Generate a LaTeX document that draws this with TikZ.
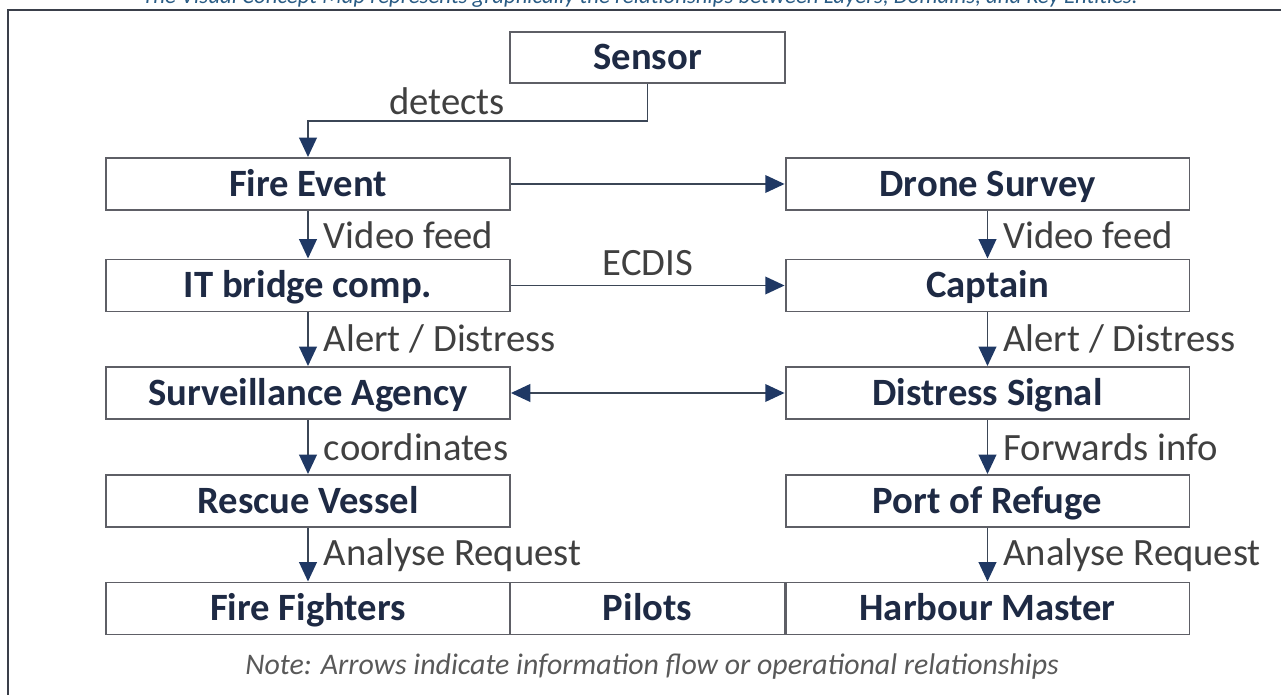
\documentclass[tikz,border=0pt]{standalone}
\usepackage{fontspec}
\setmainfont{Carlito}
\usetikzlibrary{positioning, arrows.meta}

\definecolor{boxline}{HTML}{5E5F66}
\definecolor{flowline}{HTML}{3B4656}
\definecolor{headfill}{HTML}{1F3864}
\definecolor{boxtext}{HTML}{1E2A44}
\definecolor{labeltext}{HTML}{404040}
\definecolor{notetext}{HTML}{595959}
\definecolor{titletext}{HTML}{2A5C85}
\definecolor{framecol}{HTML}{3A3F4A}

\begin{document}
\begin{tikzpicture}[
    x=0.02cm, y=-0.02cm,
    entity/.style={rectangle, draw=boxline, line width=1.1pt, fill=white, minimum height=1.04cm, inner sep=0pt, text height=16pt, text depth=2.3pt, text=boxtext, font=\fontsize{22}{26}\selectfont\bfseries},
    wide/.style={minimum width=8.08cm},
    mid/.style={minimum width=5.5cm},
    flow/.style={-{Triangle[length=11pt, width=10pt, color=headfill]}, draw=flowline, line width=1.1pt},
    both/.style={{Triangle[length=11pt, width=10pt, color=headfill]}-{Triangle[length=11pt, width=10pt, color=headfill]}, draw=flowline, line width=1.1pt},
    lbl/.style={inner sep=0pt, text=labeltext, font=\fontsize{22}{26}\selectfont}
]
\useasboundingbox (0,0) rectangle (1281,695);

% ================= FRAME AND TITLE =================
\node[anchor=base, text=titletext, font=\fontsize{13}{15}\selectfont\itshape] (title) at (640,4) {The Visual Concept Map represents graphically the relationships between Layers, Domains, and Key Entities.};
\draw[framecol, line width=1.1pt] (8,10) rectangle (1320,740);

% ================= ENTITIES =================
\node[entity, mid, minimum height=1.02cm] (sensor) at (647.5,57.5) {Sensor};

\node[entity, wide] (fire) at (308,184) {Fire Event};
\node[entity, wide] (drone) at (987.5,184) {Drone Survey};

\node[entity, wide] (itb) at (308,285.5) {IT bridge comp.};
\node[entity, wide] (captain) at (987.5,285.5) {Captain};

\node[entity, wide] (surv) at (308,393) {Surveillance Agency};
\node[entity, wide] (distress) at (987.5,393) {Distress Signal};

\node[entity, wide] (rescue) at (308,501) {Rescue Vessel};
\node[entity, wide] (refuge) at (987.5,501) {Port of Refuge};

\node[entity, wide] (fighters) at (308,608.5) {Fire Fighters};
\node[entity, mid] (pilots) at (647.5,608.5) {Pilots};
\node[entity, wide] (harbour) at (987.5,608.5) {Harbour Master};

% ================= FLOWS =================
\coordinate (bend) at (0,121);
\draw[flow] (sensor.south) -- (sensor.south |- bend) -- node[lbl, above=3pt, pos=.59] {detects} (fire.north |- bend) -- (fire.north);

\draw[flow] (fire) -- (drone);
\draw[flow] (itb) -- node[lbl, above=5pt] {ECDIS} (captain);
\draw[both] (surv) -- (distress);

% left column
\draw[flow] (fire) -- node[lbl, right=0.3cm] {Video feed} (itb);
\draw[flow] (itb) -- node[lbl, right=0.3cm] {Alert / Distress} (surv);
\draw[flow] (surv) -- node[lbl, right=0.3cm] {coordinates} (rescue);
\draw[flow] (rescue) -- node[lbl, right=0.3cm] {Analyse Request} (fighters);

% right column
\draw[flow] (drone) -- node[lbl, right=0.3cm] {Video feed} (captain);
\draw[flow] (captain) -- node[lbl, right=0.3cm] {Alert / Distress} (distress);
\draw[flow] (distress) -- node[lbl, right=0.3cm] {Forwards info} (refuge);
\draw[flow] (refuge) -- node[lbl, right=0.3cm] {Analyse Request} (harbour);

% ================= NOTE =================
\node[text=notetext, font=\fontsize{17}{20}\selectfont\itshape] (note) at (652,667) {Note: Arrows indicate information flow or operational relationships};

\end{tikzpicture}
\end{document}
